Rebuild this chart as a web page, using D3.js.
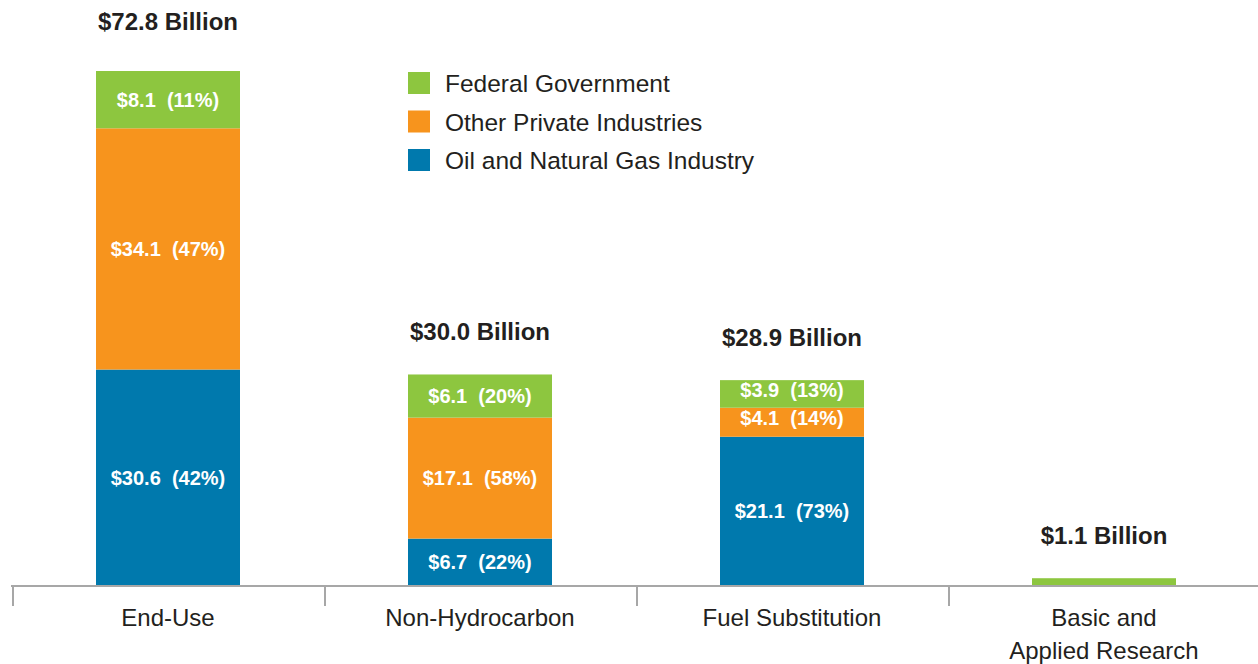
<!DOCTYPE html>
<html>
<head>
<meta charset="utf-8">
<script src="https://cdn.jsdelivr.net/npm/d3@7"></script>
<style>
  body { margin: 0; background: #fff; }
  text { font-family: "Liberation Sans", Arial, sans-serif; }
</style>
</head>
<body>
<div id="chart"></div>
<script>
const categories = ["End-Use", "Non-Hydrocarbon", "Fuel Substitution", "Basic and\nApplied Research"];
const oilGas = [30.6, 6.7, 21.1, 0];
const otherPrivate = [34.1, 17.1, 4.1, 0];
const federal = [8.1, 6.1, 3.9, 1.1];
const oilGasPct = [42, 22, 73, null];
const otherPrivatePct = [47, 58, 14, null];
const federalPct = [11, 20, 13, null];
const totals = ["$72.8 Billion", "$30.0 Billion", "$28.9 Billion", "$1.1 Billion"];
const seriesNames = ["Federal Government", "Other Private Industries", "Oil and Natural Gas Industry"];

const width = 1258, height = 664;
const baseY = 586;

const svg = d3.select("#chart")
  .append("svg")
    .attr("width", width)
    .attr("height", height);

const rows = categories.map((c, i) => ({
  cat: c, oil: oilGas[i], other: otherPrivate[i], fed: federal[i],
  oilPct: oilGasPct[i], otherPct: otherPrivatePct[i], fedPct: federalPct[i], total: totals[i]
}));

const colors = {oil: "#0079ad", other: "#f7941d", fed: "#8dc63f"};
const pctKey = {oil: "oilPct", other: "otherPct", fed: "fedPct"};

const x = d3.scaleBand()
  .domain(categories)
  .range([12, 1260]);
const barW = 144;

const y = d3.scaleLinear()
  .domain([0, 72.8])
  .range([baseY, 71]);

const stack = d3.stack().keys(["oil", "other", "fed"]);
const layers = stack(rows);

const g = svg.append("g");
layers.forEach(layer => {
  const key = layer.key;
  const grp = g.append("g");
  grp.selectAll("rect")
    .data(layer.filter(d => d[1] > d[0]))
    .join("rect")
      .attr("x", d => x(d.data.cat) + (x.bandwidth() - barW) / 2)
      .attr("y", d => y(d[1]))
      .attr("width", barW)
      .attr("height", d => y(d[0]) - y(d[1]))
      .attr("fill", colors[key]);

  grp.selectAll("text")
    .data(layer.filter(d => d.data[pctKey[key]] != null))
    .join("text")
      .attr("x", d => x(d.data.cat) + x.bandwidth() / 2)
      .attr("y", d => (y(d[0]) + y(d[1])) / 2 + 7 - (y(d[0]) - y(d[1]) < 30 ? 4 : 0))
      .attr("text-anchor", "middle")
      .attr("fill", "#fff")
      .attr("font-weight", "bold")
      .attr("font-size", "20px")
      .attr("xml:space", "preserve")
      .text(d => "$" + d.data[key].toFixed(1) + "  (" + d.data[pctKey[key]] + "%)");
});

// totals above bars
svg.append("g")
  .selectAll("text")
  .data(rows)
  .join("text")
    .attr("x", d => x(d.cat) + x.bandwidth() / 2)
    .attr("y", (d, i) => y(d.oil + d.other + d.fed) - (i === 0 ? 41 : 34))
    .attr("text-anchor", "middle")
    .attr("fill", "#231f20")
    .attr("font-weight", "bold")
    .attr("font-size", "24px")
    .text(d => d.total);

// axis
const axis = svg.append("g").attr("stroke", "#a7a7a7").attr("stroke-width", 2);
axis.append("line")
  .attr("x1", 11).attr("x2", width)
  .attr("y1", baseY).attr("y2", baseY);
axis.selectAll(".tick")
  .data(categories)
  .join("line")
    .attr("class", "tick")
    .attr("x1", d => x(d) + 1).attr("x2", d => x(d) + 1)
    .attr("y1", baseY).attr("y2", baseY + 20);

svg.append("g")
  .selectAll("text")
  .data(categories)
  .join("text")
    .attr("x", d => x(d) + x.bandwidth() / 2)
    .attr("y", 626)
    .attr("text-anchor", "middle")
    .attr("fill", "#231f20")
    .attr("font-size", "24px")
    .each(function(d) {
      const parts = d.split("\n");
      d3.select(this).selectAll("tspan")
        .data(parts)
        .join("tspan")
          .attr("x", x(d) + x.bandwidth() / 2)
          .attr("dy", (p, j) => j === 0 ? 0 : 33)
          .text(p => p);
    });

// legend
const legend = svg.append("g").attr("transform", "translate(408,72)");
const legColors = [colors.fed, colors.other, colors.oil];
seriesNames.forEach((n, i) => {
  legend.append("rect")
    .attr("x", 0).attr("y", i * 38.5)
    .attr("width", 22).attr("height", 22)
    .attr("fill", legColors[i]);
  legend.append("text")
    .attr("x", 37).attr("y", i * 38.5 + 20)
    .attr("fill", "#231f20")
    .attr("font-size", "24.5px")
    .text(n);
});
</script>
</body>
</html>
